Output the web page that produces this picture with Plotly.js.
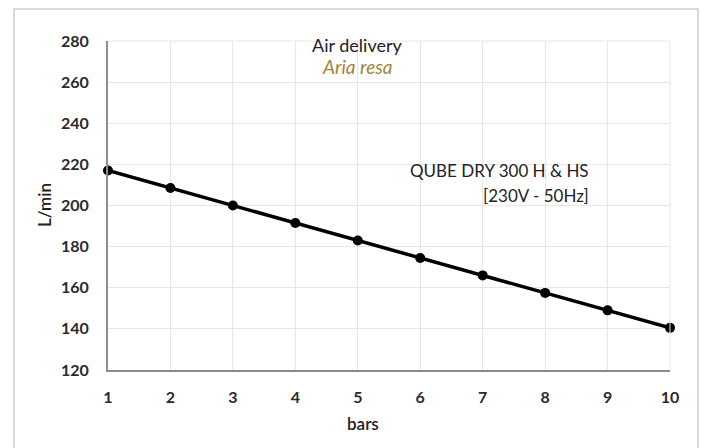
<!DOCTYPE html>
<html>
<head>
<meta charset="utf-8">
<script src="https://cdn.plot.ly/plotly-3.0.1.min.js"></script>
<style>html,body{margin:0;padding:0;background:#fff;}#chart{width:701px;height:448px;}</style>
</head>
<body>
<div id="chart"></div>
<script>
const pressureBars = [1, 2, 3, 4, 5, 6, 7, 8, 9, 10];
const airDelivery = [217, 208.5, 200, 191.5, 183, 174.5, 166, 157.5, 149, 140.5];
const xTicks = [1, 2, 3, 4, 5, 6, 7, 8, 9, 10];
const yTicks = [120, 140, 160, 180, 200, 220, 240, 260, 280];

const trace = {
  x: pressureBars,
  y: airDelivery,
  type: 'scatter',
  mode: 'lines+markers',
  line: {color: '#000000', width: 3.5},
  marker: {color: '#000000', size: 10},
  hoverinfo: 'skip',
  cliponaxis: false
};

const FONT = 'Lato, "Open Sans", sans-serif';
const tickFont = {family: FONT, size: 16, color: '#2b2b2b', weight: 700};

const layout = {
  width: 701,
  height: 448,
  margin: {l: 108, r: 31, t: 41, b: 78},
  paper_bgcolor: '#ffffff',
  plot_bgcolor: '#ffffff',
  showlegend: false,
  xaxis: {
    range: [1, 10],
    tickvals: xTicks,
    ticktext: xTicks.map(String),
    showgrid: true,
    gridcolor: '#e6e6e6',
    gridwidth: 1,
    zeroline: false,
    showline: true,
    linecolor: '#8c8c8c',
    linewidth: 2,
    ticks: 'outside',
    ticklen: 12,
    tickcolor: 'rgba(0,0,0,0)',
    tickfont: tickFont,
    fixedrange: true
  },
  yaxis: {
    range: [120, 280],
    tickvals: yTicks,
    ticktext: yTicks.map(String),
    showgrid: true,
    gridcolor: '#e6e6e6',
    gridwidth: 1,
    zeroline: false,
    showline: true,
    linecolor: '#8c8c8c',
    linewidth: 2,
    ticks: 'outside',
    ticklen: 14,
    tickcolor: 'rgba(0,0,0,0)',
    tickfont: tickFont,
    fixedrange: true
  },
  shapes: [
    {type: 'line', xref: 'paper', yref: 'paper', x0: 1, x1: 1, y0: 0, y1: 1, line: {color: '#e6e6e6', width: 1}},
    {type: 'line', xref: 'paper', yref: 'paper', x0: 0, x1: 1, y0: 1, y1: 1, line: {color: '#e6e6e6', width: 1}},
    {type: 'rect', xref: 'paper', yref: 'paper', x0: -0.1673, x1: 1.0498, y0: -0.3, y1: 1.0973,
     line: {color: '#d9d9d9', width: 2}, fillcolor: 'rgba(0,0,0,0)', layer: 'below'}
  ],
  annotations: [
    {xref: 'paper', yref: 'paper', x: (357 - 108) / 562, y: (370 - 45) / 329, text: 'Air delivery',
     showarrow: false, xanchor: 'center', yanchor: 'middle',
     font: {family: FONT, size: 18, color: '#222222'}},
    {xref: 'paper', yref: 'paper', x: (357 - 108) / 562, y: (370 - 67) / 329, text: '<i>Aria resa</i>',
     showarrow: false, xanchor: 'center', yanchor: 'middle',
     font: {family: FONT, size: 19, color: '#a2843e'}},
    {xref: 'paper', yref: 'paper', x: (591 - 108) / 562, y: (370 - 170) / 329, text: 'QUBE DRY 300 H &amp; HS',
     showarrow: false, xanchor: 'right', yanchor: 'middle',
     font: {family: FONT, size: 17, color: '#222222'}},
    {xref: 'paper', yref: 'paper', x: (591 - 108) / 562, y: (370 - 195) / 329, text: '[230V - 50Hz]',
     showarrow: false, xanchor: 'right', yanchor: 'middle',
     font: {family: FONT, size: 17, color: '#222222'}},
    {xref: 'paper', yref: 'paper', x: (363 - 108) / 562, y: (370 - 423) / 329, text: 'bars',
     showarrow: false, xanchor: 'center', yanchor: 'middle',
     font: {family: FONT, size: 17, color: '#222222', weight: 600}},
    {xref: 'paper', yref: 'paper', x: (44 - 108) / 562, y: (370 - 205) / 329, text: 'L/min',
     showarrow: false, xanchor: 'center', yanchor: 'middle', textangle: -90,
     font: {family: FONT, size: 17, color: '#222222', weight: 600}}
  ]
};

Plotly.newPlot('chart', [trace], layout, {displayModeBar: false, staticPlot: true});
</script>
</body>
</html>
